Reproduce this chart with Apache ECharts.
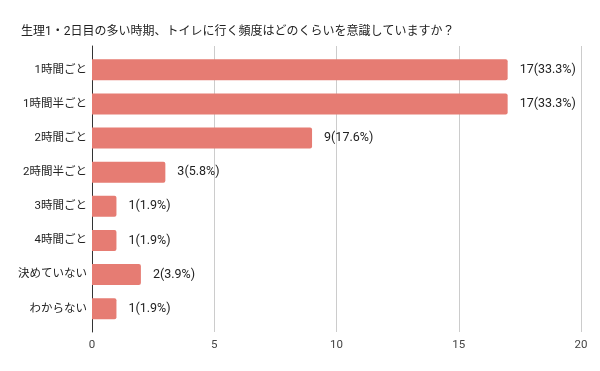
<!DOCTYPE html>
<html><head><meta charset="utf-8">
<script src="https://cdn.jsdelivr.net/npm/echarts@6/dist/echarts.min.js"></script>
<style>html,body{margin:0;padding:0;background:#fff}#c{width:600px;height:371px}</style>
</head><body><div id="c"></div>
<script>
const titleText = '生理1・2日目の多い時期、トイレに行く頻度はどのくらいを意識していますか？';
const categories = ['1時間ごと','1時間半ごと','2時間ごと','2時間半ごと','3時間ごと','4時間ごと','決めていない','わからない'];
const counts = [17,17,9,3,1,1,2,1];
const percents = ['33.3%','33.3%','17.6%','5.8%','1.9%','1.9%','3.9%','1.9%'];
const xMin = 0, xMax = 20, xInterval = 5;

const FONT = "Roboto, 'Noto Sans CJK JP', sans-serif";
const chart = echarts.init(document.getElementById('c'), null, {renderer:'canvas'});
chart.setOption({
  animation:false,
  backgroundColor:'#fff',
  title:{text:titleText,left:16,top:21,textStyle:{fontFamily:FONT,fontSize:12,fontWeight:'normal',color:'#222'}},
  grid:[
    {left:92,right:19,top:46,bottom:39},
    {left:92,right:19,top:52.7,bottom:45.2}
  ],
  xAxis:[
    {gridIndex:0,type:'value',min:xMin,max:xMax,interval:xInterval,
     axisLine:{show:false},axisTick:{show:false},
     splitLine:{show:true,lineStyle:{color:'#cccccc',width:1}},
     axisLabel:{margin:7,fontFamily:FONT,fontSize:11.5,color:'#444'}},
    {gridIndex:1,type:'value',min:xMin,max:xMax,interval:xInterval,show:false}
  ],
  yAxis:[
    {gridIndex:0,type:'value',min:0,max:1,show:true,axisLabel:{show:false},axisTick:{show:false},splitLine:{show:false},
     axisLine:{show:true,lineStyle:{color:'#333',width:1}}},
    {gridIndex:1,type:'category',data:categories,inverse:true,
     axisLine:{show:false},axisTick:{show:false},
     axisLabel:{margin:5,fontFamily:FONT,fontSize:11.5,color:'#222'}}
  ],
  series:[{
    type:'bar',xAxisIndex:1,yAxisIndex:1,
    data:counts,barWidth:21,
    itemStyle:{color:'#e67c73',borderRadius:[0,2,2,0]},
    label:{show:true,position:'right',distance:12,fontFamily:FONT,fontSize:12.5,color:'#222',
      formatter:p=>counts[p.dataIndex]+'('+percents[p.dataIndex]+')'}
  }]
});
</script></body></html>
